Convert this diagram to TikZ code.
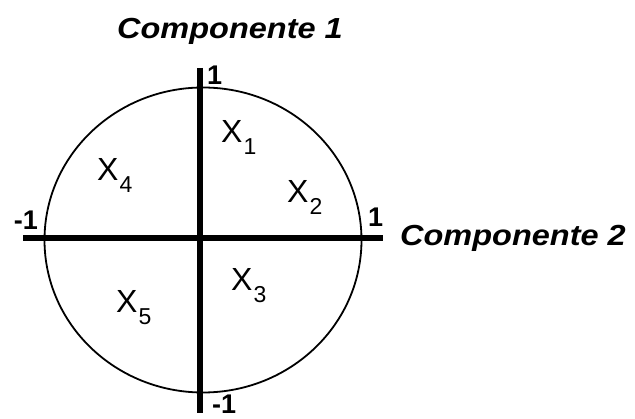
\documentclass[tikz,border=0pt]{standalone}
\usepackage{fontspec}
\setmainfont{Liberation Sans}
\newcommand{\xlab}[1]{X\kern1pt\raisebox{-12pt}{\fontsize{23}{23}\selectfont #1}}
\newcommand{\comp}[1]{\scalebox{1.12}[1]{\fontsize{29}{29}\selectfont\bfseries\itshape #1}}
\begin{document}
\begin{tikzpicture}[x=1pt,y=-1pt,
  axisline/.style={line width=6.5pt},
  ringline/.style={line width=1.8pt},
  xnode/.style={font=\fontsize{32}{32}\selectfont, anchor=base west, inner sep=0pt},
  numnode/.style={font=\fontsize{27}{27}\selectfont\bfseries, inner sep=0pt},
  compnode/.style={anchor=base west, inner sep=0pt}]
\useasboundingbox (0,0) rectangle (635,419);
\coordinate (c) at (203,240);
\coordinate (xl) at (23,238);
\coordinate (xr) at (383,238);
\coordinate (yt) at (200,68);
\coordinate (yb) at (200,413);
\draw[ringline] (c) ellipse [x radius=158.5pt, y radius=152.5pt];
\draw[axisline] (xl) -- (xr);
\draw[axisline] (yt) -- (yb);
\node[compnode] (c1) at (117,39) {\comp{Componente 1}};
\node[compnode] (c2) at (400,246) {\comp{Componente 2}};
\node[numnode, anchor=base west] (t1) at (207,85) {1};
\node[numnode, anchor=base east] (l1) at (38,230) {-1};
\node[numnode, anchor=base west] (r1) at (368,227) {1};
\node[numnode, anchor=base west] (b1) at (212,414) {-1};
\node[xnode] (x1) at (221,143) {\xlab{1}};
\node[xnode] (x2) at (287,203) {\xlab{2}};
\node[xnode] (x3) at (231,291) {\xlab{3}};
\node[xnode] (x4) at (97,181) {\xlab{4}};
\node[xnode] (x5) at (116,313) {\xlab{5}};
\end{tikzpicture}
\end{document}
